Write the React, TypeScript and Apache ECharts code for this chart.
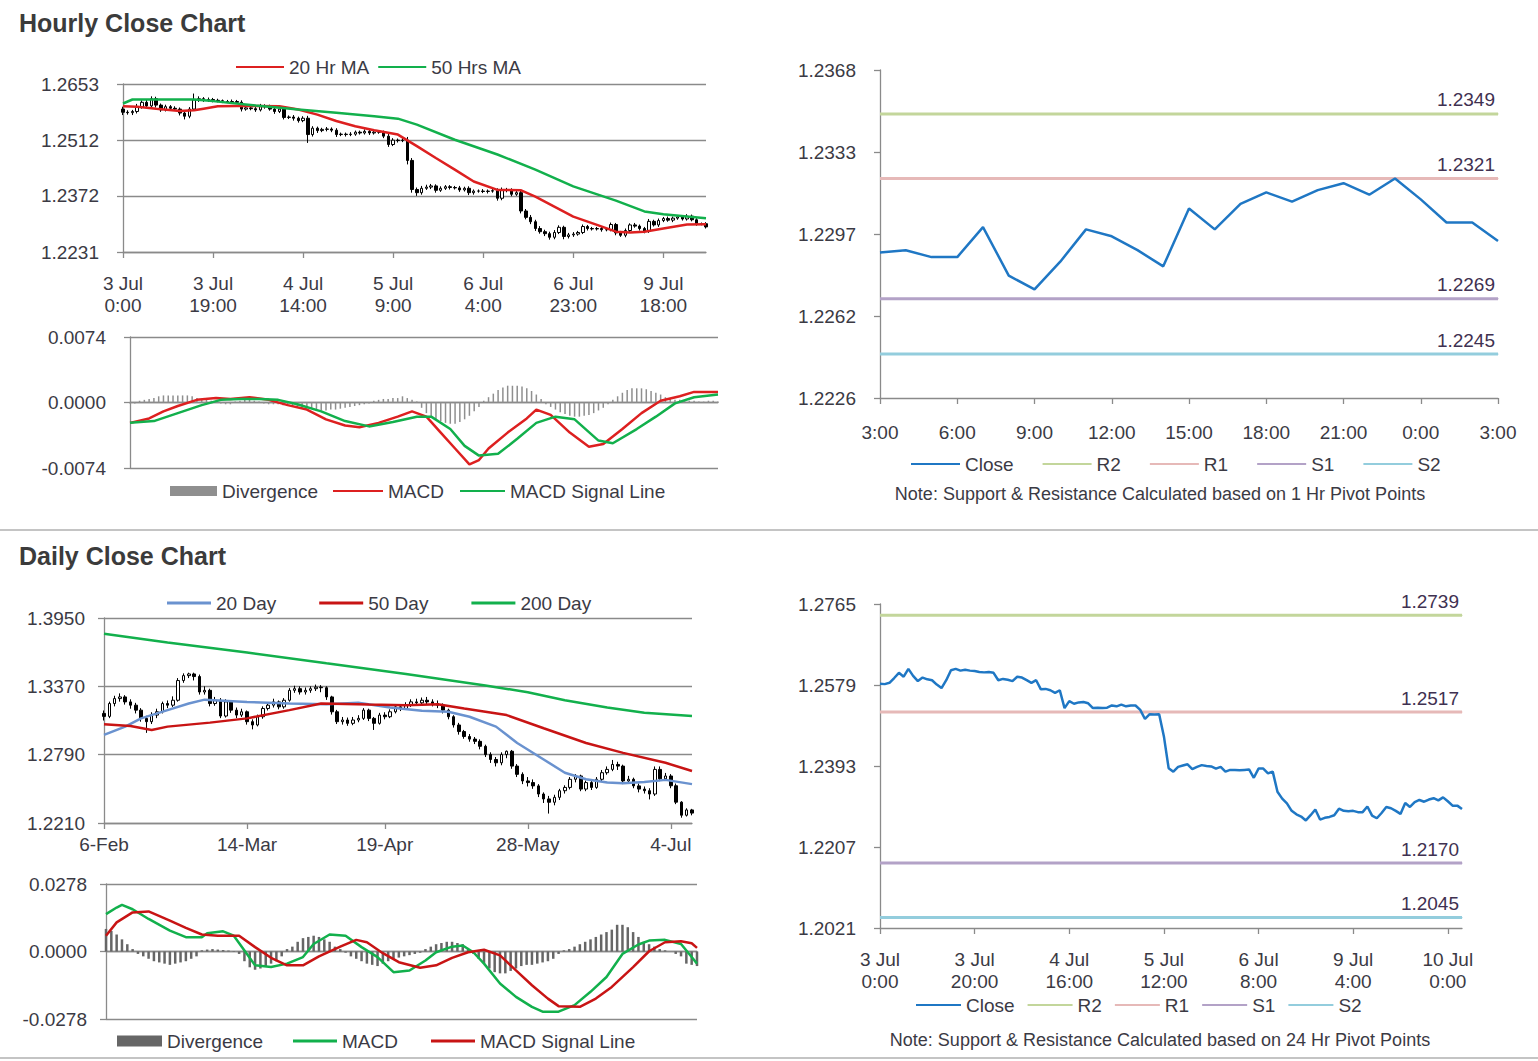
import React, { useEffect, useRef } from "react";
import * as echarts from "echarts";

const W = 1538;
const H = 1061;
const FONT = "'Liberation Sans', Arial, Helvetica, sans-serif";
const TXT = "#3b3a44";
const AXIS = "#8a8a8a";
const LVL = "#3f3151";
const RED = "#dd2020";
const GREEN = "#12b04c";
const BLUE20 = "#6a92cf";
const DRED = "#c81414";
const CLOSE = "#1f77c4";
const R2C = "#c3d69b";
const R1C = "#e6b9b8";
const S1C = "#b3a2c7";
const S2C = "#93cddd";

// ---------------- Hourly data: 3 Jul 0:00 – 10 Jul 3:00 ----------------
const hourlyDays = ["3 Jul", "4 Jul", "5 Jul", "6 Jul", "9 Jul", "10 Jul"];
const hourlyFirstOpen = 1.259;
const hourlyClose = [
  1.2582, 1.2581, 1.2584, 1.2595, 1.2607, 1.2598, 1.2616, 1.26, 1.2588, 1.2596,
  1.2592, 1.259, 1.258, 1.2572, 1.259, 1.2613, 1.2616, 1.2612, 1.2614, 1.2612,
  1.2611, 1.2609, 1.2608, 1.2609, 1.2607, 1.259, 1.2593, 1.2591, 1.2588, 1.2598,
  1.2596, 1.259, 1.2584, 1.259, 1.2569, 1.257, 1.2567, 1.2561, 1.2567, 1.2526,
  1.2542, 1.2536, 1.2539, 1.254, 1.2537, 1.2526, 1.2527, 1.2526, 1.2527, 1.2532,
  1.253, 1.2534, 1.253, 1.2532, 1.2532, 1.2522, 1.2501, 1.2512, 1.2511, 1.2512,
  1.2461, 1.2388, 1.238, 1.2391, 1.2394, 1.2397, 1.2386, 1.2391, 1.2395, 1.2393,
  1.2392, 1.2387, 1.2391, 1.238, 1.2384, 1.2384, 1.2383, 1.2384, 1.2385, 1.2366,
  1.2387, 1.2387, 1.2376, 1.238, 1.2334, 1.2318, 1.2307, 1.229, 1.2282, 1.2277,
  1.2268, 1.228, 1.2293, 1.227, 1.2274, 1.2276, 1.228, 1.2295, 1.229, 1.2289,
  1.229, 1.2287, 1.2287, 1.23, 1.2279, 1.2273, 1.2285, 1.2299, 1.2296, 1.229,
  1.2283, 1.2308, 1.2299, 1.231, 1.2315, 1.2311, 1.2316, 1.2319, 1.2314, 1.2321,
  1.2312, 1.2302, 1.2302, 1.2294,
];
// wick lengths beyond the candle body, in pips
const hourlyUpWickPips = [
  6, 5, 4, 8, 5, 6, 6, 5, 4, 5,
  4, 5, 4, 6, 5, 16, 6, 4, 5, 4,
  4, 3, 4, 5, 4, 5, 4, 5, 4, 5,
  4, 5, 4, 5, 6, 4, 5, 4, 5, 6,
  5, 4, 4, 5, 4, 5, 4, 4, 5, 4,
  4, 5, 4, 4, 5, 4, 6, 5, 4, 5,
  8, 6, 5, 6, 6, 5, 4, 5, 4, 4,
  4, 5, 4, 5, 4, 4, 5, 4, 4, 6,
  6, 5, 4, 5, 6, 5, 6, 5, 6, 5,
  5, 6, 5, 4, 5, 5, 4, 5, 4, 4,
  4, 5, 4, 5, 4, 5, 5, 4, 5, 4,
  4, 6, 4, 5, 4, 5, 4, 5, 4, 5,
  4, 4, 3, 4,
];
const hourlyDownWickPips = [
  7, 5, 6, 5, 4, 5, 5, 6, 5, 4,
  5, 4, 6, 8, 5, 4, 5, 4, 4, 5,
  4, 4, 3, 4, 4, 6, 4, 4, 5, 4,
  5, 4, 6, 4, 5, 4, 6, 5, 4, 21,
  5, 6, 4, 5, 5, 6, 4, 5, 4, 4,
  4, 4, 5, 4, 4, 5, 6, 4, 5, 4,
  10, 8, 8, 5, 4, 5, 6, 4, 4, 5,
  4, 5, 4, 6, 5, 4, 4, 5, 4, 6,
  5, 6, 5, 4, 6, 5, 6, 6, 5, 6,
  6, 5, 4, 7, 5, 5, 4, 4, 5, 4,
  4, 5, 4, 4, 6, 4, 5, 4, 4, 5,
  5, 4, 4, 5, 4, 4, 5, 4, 4, 4,
  4, 5, 4, 4,
];
const ma20Hr = [
  [0, 1.2597], [3, 1.2596], [7, 1.2591], [12, 1.2585], [15, 1.2587], [17, 1.2591],
  [20, 1.2597], [24, 1.2598], [28, 1.2598], [33, 1.2597], [37, 1.2589], [41, 1.2576],
  [45, 1.256], [49, 1.2547], [53, 1.2537], [58, 1.2526], [62, 1.2497], [66, 1.2467],
  [70, 1.2438], [74, 1.2408], [79, 1.2387], [84, 1.2386], [87, 1.237], [91, 1.2345],
  [95, 1.232], [100, 1.2299], [104, 1.2282], [107, 1.228], [110, 1.2282], [114, 1.229],
  [119, 1.23], [123, 1.2301],
];
const ma50Hr = [
  [0, 1.2604], [2, 1.2614], [15, 1.2614], [19, 1.261], [28, 1.2599], [37, 1.2589],
  [45, 1.2581], [53, 1.2572], [58, 1.2566], [62, 1.2551], [70, 1.2513], [79, 1.2476],
  [87, 1.2438], [95, 1.2396], [104, 1.236], [110, 1.2333], [114, 1.2326], [119, 1.232],
  [123, 1.2316],
];
const hourlyMacd = [
  [0, -0.0023], [4, -0.0018], [7, -0.001], [10, -0.0004], [14, 0.0003], [18, 0.0005],
  [21, 0.0004], [25, 0.0006], [29, 0.0003], [33, -0.0003], [37, -0.0008], [41, -0.0019],
  [45, -0.0026], [48, -0.0028], [52, -0.0023], [56, -0.0016], [59, -0.001], [62, -0.0016],
  [65, -0.0034], [68, -0.0052], [71, -0.007], [73, -0.0065], [75, -0.0052], [79, -0.0034],
  [83, -0.0018], [85, -0.0008], [88, -0.0014], [92, -0.0034], [96, -0.005], [99, -0.0047],
  [103, -0.003], [107, -0.0012], [111, 0.0002], [115, 0.0007], [118, 0.0012], [123, 0.0012],
];
const hourlySignal = [
  [0, -0.0023], [5, -0.0021], [10, -0.0012], [15, -0.0003], [19, 0.0003], [23, 0.0004],
  [27, 0.0004], [31, 0.0003], [35, -0.0002], [40, -0.001], [45, -0.0021], [50, -0.0027],
  [55, -0.0022], [60, -0.0016], [63, -0.0016], [67, -0.003], [70, -0.0049], [73, -0.006],
  [77, -0.0058], [81, -0.0041], [85, -0.0023], [89, -0.0016], [93, -0.0019], [98, -0.0043],
  [101, -0.0046], [106, -0.003], [110, -0.0016], [114, -0.0001], [118, 0.0006], [123, 0.0009],
];
const hourlyDivergence = [
  -0.0001, -0.0001, 0.0002, 0.0003, 0.0004, 0.0005, 0.0007, 0.0008, 0.0008, 0.0008,
  0.0008, 0.0008, 0.0008, 0.0007, 0.0005, 0.0004, 0.0003, 0.0002, 0.0001, -0.0001,
  -0.0002, -0.0002, 0.0001, 0.0002, 0.0003, 0.0003, 0.0002, 0.0001, -0.0001, -0.0002,
  -0.0002, -0.0002, -0.0003, -0.0004, -0.0004, -0.0005, -0.0006, -0.0006, -0.0007, -0.0008,
  -0.0009, -0.0009, -0.0008, -0.0008, -0.0007, -0.0006, -0.0005, -0.0004, -0.0003, -0.0002,
  -0.0001, 0.0002, 0.0003, 0.0004, 0.0004, 0.0005, 0.0005, 0.0007, 0.0005, 0.0003,
  0.0001, -0.0006, -0.0012, -0.0016, -0.0019, -0.0021, -0.0023, -0.0024, -0.0024, -0.0022,
  -0.0019, -0.0015, -0.001, -0.0005, 0.0002, 0.0006, 0.001, 0.0014, 0.0017, 0.0019,
  0.0019, 0.0019, 0.0018, 0.0016, 0.0013, 0.0009, 0.0004, -0.0002, -0.0005, -0.0008,
  -0.0011, -0.0013, -0.0015, -0.0016, -0.0016, -0.0015, -0.0014, -0.0012, -0.0009, -0.0006,
  -0.0002, 0.0003, 0.0007, 0.0011, 0.0014, 0.0016, 0.0016, 0.0016, 0.0015, 0.0013,
  0.0011, 0.0009, 0.0006, 0.0004, 0.0003, 0.0003, 0.0002, 0.0002, 0.0002, 0.0001,
  0.0001, 0.0002, 0.0002, 0.0001,
];
const hourlyPriceTicks = [1.2231, 1.23717, 1.25123, 1.2653];
const hourlyMacdTicks = [-0.0074, 0, 0.0074];
const hourlyPivotStart = 99; // 9 Jul 3:00
const hourlyPivotTicks = [1.2226, 1.22615, 1.2297, 1.23325, 1.2368];
const hourlyPivotNames = ["R2", "R1", "S1", "S2"];
const hourlyPivotValues = [1.2349, 1.2321, 1.2269, 1.2245];

// ---------------- Daily data: 6 Feb – 10 Jul (weekdays) ----------------
const monthNames = ["Jan", "Feb", "Mar", "Apr", "May", "Jun", "Jul", "Aug", "Sep", "Oct", "Nov", "Dec"];
const dailyFirstOpen = 1.314;
const dailyClose = [
  1.3115, 1.3224, 1.3266, 1.328, 1.3238, 1.321, 1.3168, 1.3098, 1.307, 1.3126,
  1.3154, 1.3224, 1.321, 1.3252, 1.3419, 1.3461, 1.3475, 1.3453, 1.3322, 1.3336,
  1.3224, 1.3252, 1.3118, 1.3238, 1.3168, 1.3126, 1.3154, 1.307, 1.3042, 1.3112,
  1.3182, 1.321, 1.3238, 1.3196, 1.3252, 1.3336, 1.335, 1.3322, 1.3336, 1.335,
  1.3363, 1.3358, 1.328, 1.3154, 1.307, 1.3084, 1.3056, 1.3084, 1.3098, 1.3168,
  1.3098, 1.3056, 1.3126, 1.3112, 1.3154, 1.3196, 1.3182, 1.321, 1.3238, 1.323,
  1.3252, 1.3238, 1.3224, 1.321, 1.3168, 1.3112, 1.3042, 1.2986, 1.2944, 1.2922,
  1.2903, 1.2861, 1.2791, 1.2749, 1.2721, 1.2791, 1.2819, 1.2693, 1.2623, 1.2567,
  1.2553, 1.2525, 1.2456, 1.2414, 1.2386, 1.2428, 1.2484, 1.2512, 1.2581, 1.2609,
  1.2498, 1.2553, 1.2512, 1.2581, 1.2637, 1.2665, 1.2707, 1.2693, 1.2567, 1.2581,
  1.2525, 1.2498, 1.2484, 1.2456, 1.2665, 1.2585, 1.2609, 1.2526, 1.2387, 1.2276,
  1.2321, 1.2294,
];
const dailyHigh = [
  1.3165, 1.324, 1.329, 1.331, 1.3295, 1.326, 1.323, 1.3185, 1.312, 1.315,
  1.318, 1.324, 1.325, 1.3285, 1.344, 1.348, 1.3486, 1.3486, 1.347, 1.337,
  1.335, 1.328, 1.327, 1.326, 1.325, 1.319, 1.318, 1.3165, 1.309, 1.313,
  1.32, 1.3235, 1.3265, 1.325, 1.327, 1.3355, 1.3375, 1.337, 1.336, 1.337,
  1.3385, 1.338, 1.337, 1.329, 1.317, 1.311, 1.3105, 1.311, 1.3125, 1.3185,
  1.318, 1.311, 1.3145, 1.315, 1.3175, 1.3215, 1.322, 1.3235, 1.326, 1.3265,
  1.3275, 1.328, 1.326, 1.325, 1.3225, 1.318, 1.3125, 1.306, 1.3, 1.2965,
  1.294, 1.292, 1.2875, 1.281, 1.277, 1.281, 1.2825, 1.283, 1.271, 1.264,
  1.26, 1.258, 1.254, 1.247, 1.244, 1.245, 1.25, 1.253, 1.26, 1.2625,
  1.262, 1.257, 1.258, 1.26, 1.266, 1.269, 1.2745, 1.273, 1.2705, 1.261,
  1.2595, 1.2545, 1.252, 1.2505, 1.269, 1.269, 1.2635, 1.2625, 1.2545, 1.2395,
  1.2335, 1.233,
];
const dailyLow = [
  1.308, 1.31, 1.32, 1.324, 1.3215, 1.318, 1.314, 1.307, 1.2975, 1.305,
  1.31, 1.314, 1.3185, 1.3195, 1.324, 1.34, 1.344, 1.342, 1.33, 1.33,
  1.32, 1.3205, 1.31, 1.3105, 1.3145, 1.31, 1.311, 1.3045, 1.3005, 1.303,
  1.3095, 1.3165, 1.319, 1.3175, 1.318, 1.324, 1.3315, 1.33, 1.33, 1.3315,
  1.333, 1.332, 1.3255, 1.313, 1.305, 1.3045, 1.3035, 1.304, 1.3065, 1.3085,
  1.3075, 1.3, 1.3045, 1.309, 1.31, 1.314, 1.316, 1.317, 1.3195, 1.3205,
  1.3215, 1.322, 1.32, 1.3185, 1.314, 1.309, 1.302, 1.296, 1.2925, 1.29,
  1.288, 1.2835, 1.277, 1.272, 1.269, 1.27, 1.276, 1.267, 1.26, 1.254,
  1.252, 1.25, 1.243, 1.238, 1.229, 1.236, 1.2405, 1.246, 1.2495, 1.2555,
  1.248, 1.248, 1.249, 1.25, 1.256, 1.262, 1.265, 1.266, 1.254, 1.2545,
  1.2505, 1.247, 1.246, 1.241, 1.244, 1.2565, 1.257, 1.2505, 1.237, 1.2255,
  1.2265, 1.2275,
];
const ma20Day = [
  [0, 1.2958], [4, 1.3028], [7, 1.3098], [12, 1.3168], [16, 1.3224], [19, 1.3257],
  [27, 1.3238], [35, 1.3224], [42, 1.3218], [48, 1.323], [54, 1.319], [60, 1.3162],
  [65, 1.3154], [69, 1.3112], [74, 1.3028], [78, 1.2889], [83, 1.2749], [87, 1.2637],
  [91, 1.2581], [95, 1.2553], [98, 1.2548], [102, 1.2559], [106, 1.2576], [111, 1.254],
];
const ma50Day = [
  [0, 1.3048], [5, 1.3034], [9, 1.3], [12, 1.3028], [20, 1.3062], [27, 1.3098],
  [35, 1.3168], [41, 1.3224], [50, 1.3215], [57, 1.321], [63, 1.3218], [68, 1.3182],
  [76, 1.3126], [83, 1.3014], [91, 1.2889], [98, 1.2805], [106, 1.2721], [111, 1.2651],
];
const ma200Day = [
  [0, 1.3816], [12, 1.3743], [27, 1.3657], [42, 1.3565], [57, 1.3475], [72, 1.3377],
  [80, 1.332], [87, 1.3252], [95, 1.319], [102, 1.3146], [111, 1.3118],
];
const dailyMacd = [
  [0, 0.0154], [2, 0.0181], [3, 0.0192], [5, 0.0174], [8, 0.0134], [12, 0.0086],
  [15, 0.0059], [18, 0.0059], [19, 0.0075], [22, 0.0083], [24, 0.0065], [26, 0.0004],
  [28, -0.0057], [31, -0.0064], [34, -0.005], [37, -0.0023], [39, 0.0031], [42, 0.007],
  [45, 0.0065], [48, 0.0018], [51, -0.0023], [54, -0.0085], [57, -0.0078], [60, -0.0037],
  [62, -0.0003], [65, 0.002], [67, 0.0025], [69, -0.0003], [71, -0.005], [74, -0.0132],
  [77, -0.0187], [80, -0.0228], [82, -0.0248], [85, -0.0248], [88, -0.0221], [91, -0.0166],
  [94, -0.0105], [97, -0.001], [100, 0.0029], [102, 0.0045], [105, 0.0048], [108, 0.0031],
  [110, -0.0023], [111, -0.005],
];
const dailySignal = [
  [0, 0.0065], [2, 0.012], [5, 0.0161], [8, 0.0165], [12, 0.0127], [15, 0.0097],
  [18, 0.007], [21, 0.0065], [25, 0.0065], [28, 0.0018], [31, -0.0026], [34, -0.0057],
  [37, -0.0057], [40, -0.002], [44, 0.002], [47, 0.0048], [49, 0.0038], [52, -0.0007],
  [55, -0.0044], [59, -0.0067], [62, -0.0057], [65, -0.0026], [68, -0.0003], [71, 0.0007],
  [74, -0.0016], [77, -0.0078], [80, -0.0139], [83, -0.0194], [85, -0.0225], [89, -0.0228],
  [92, -0.0194], [95, -0.0146], [99, -0.0064], [102, 0.0001], [105, 0.0038], [108, 0.0042],
  [110, 0.0034], [111, 0.0015],
];
const dailyDivergence = [
  0.0093, 0.0085, 0.007, 0.005, 0.003, 0.001, -0.001, -0.002, -0.003, -0.004,
  -0.0045, -0.005, -0.0055, -0.005, -0.0045, -0.004, -0.003, -0.002, 0.0005, 0.0008,
  0.001, 0.0008, 0.0006, 0.0004, 0.0002, -0.001, -0.004, -0.0065, -0.0075, -0.007,
  -0.006, -0.005, -0.004, -0.002, 0.001, 0.002, 0.004, 0.0055, 0.006, 0.0065,
  0.006, 0.005, 0.004, 0.002, 0.001, -0.0005, -0.002, -0.003, -0.004, -0.005,
  -0.0055, -0.006, -0.005, -0.004, -0.003, -0.0025, -0.002, -0.0015, -0.001, -0.0005,
  0.001, 0.002, 0.003, 0.0035, 0.004, 0.004, 0.0035, 0.003, 0.001, -0.001,
  -0.003, -0.005, -0.007, -0.0085, -0.009, -0.009, -0.008, -0.007, -0.006, -0.0055,
  -0.0055, -0.005, -0.0045, -0.004, -0.003, -0.001, 0.0005, 0.001, 0.002, 0.003,
  0.004, 0.005, 0.006, 0.007, 0.008, 0.009, 0.011, 0.011, 0.01, 0.008,
  0.006, 0.004, 0.003, 0.002, 0.001, 0.0005, 0, -0.001, -0.002, -0.005,
  -0.0055, -0.006,
];
const dailyPriceTicks = [1.221, 1.279, 1.337, 1.395];
const dailyMacdTicks = [-0.0278, 0, 0.0278];
const dailyTickLabels = ["6-Feb", "14-Mar", "19-Apr", "28-May", "4-Jul"];
const dailyPivotTicks = [1.2021, 1.2207, 1.2393, 1.2579, 1.2765];
const dailyPivotNames = ["R2", "R1", "S1", "S2"];
const dailyPivotValues = [1.2739, 1.2517, 1.217, 1.2045];

// ---------------- derived label lists & OHLC ----------------
const hourlyLabels: string[] = [];
for (const d of hourlyDays) {
  for (let h = 0; h < 24 && hourlyLabels.length < hourlyClose.length; h++) hourlyLabels.push(`${d}\n${h}:00`);
}
const pivotHours = hourlyLabels.slice(hourlyPivotStart).map((s) => s.split("\n")[1]);
const pivotClose = hourlyClose.slice(hourlyPivotStart);

const dailyLabels: string[] = [];
{
  const dt = new Date(Date.UTC(2012, 1, 6));
  while (dailyLabels.length < dailyClose.length) {
    const wd = dt.getUTCDay();
    if (wd !== 0 && wd !== 6) dailyLabels.push(`${dt.getUTCDate()}-${monthNames[dt.getUTCMonth()]}`);
    dt.setUTCDate(dt.getUTCDate() + 1);
  }
}
const dailyTickIdx = dailyTickLabels.map((l) => dailyLabels.indexOf(l));

const PIP = 0.0001;
const hourlyOHLC = hourlyClose.map((c, i) => {
  const o = i === 0 ? hourlyFirstOpen : hourlyClose[i - 1];
  const lo = Math.min(o, c) - hourlyDownWickPips[i] * PIP;
  const hi = Math.max(o, c) + hourlyUpWickPips[i] * PIP;
  return [o, c, lo, hi];
});
const dailyOHLC = dailyClose.map((c, i) => {
  const o = i === 0 ? dailyFirstOpen : dailyClose[i - 1];
  return [o, c, Math.min(dailyLow[i], o, c), Math.max(dailyHigh[i], o, c)];
});

// ---------------- option helpers ----------------
const axisLineStyle = { color: AXIS, width: 1.3 };
const labelBase = { color: TXT, fontSize: 19, fontFamily: FONT };
// 4-decimal label, rounding halves upwards (1.22615 -> 1.2262)
const fmt4 = (v: number) => (Math.round(v * 10000 + (v >= 0 ? 0.01 : -0.01)) / 10000).toFixed(4);

function priceAxis(gridIndex: number, min: number, max: number, ticks: number[], margin: number, grid: boolean) {
  return {
    type: "value",
    gridIndex,
    min,
    max,
    axisLine: { show: true, onZero: false, lineStyle: axisLineStyle },
    axisTick: { show: true, inside: false, length: 6, customValues: ticks, lineStyle: axisLineStyle },
    axisLabel: { ...labelBase, margin, customValues: ticks, formatter: fmt4 },
    splitLine: { show: grid, lineStyle: { color: AXIS, width: 1.3 } },
  };
}

function catAxis(gridIndex: number, data: string[], interval: any, margin: number) {
  return {
    type: "category",
    gridIndex,
    data,
    boundaryGap: false,
    axisLine: { show: true, onZero: false, lineStyle: axisLineStyle },
    axisTick: { show: true, interval, length: 6, lineStyle: axisLineStyle },
    axisLabel: { ...labelBase, interval, margin, lineHeight: 22 },
    splitLine: { show: false },
  };
}

function macdXAxis(gridIndex: number, data: string[]) {
  return {
    type: "category",
    gridIndex,
    data,
    boundaryGap: false,
    axisLine: { show: true, onZero: true, lineStyle: axisLineStyle },
    axisTick: { show: false },
    axisLabel: { show: false },
    splitLine: { show: false },
  };
}

function mkLegend(data: any[], left: number, cy: number, w: number, h: number, gap: number, icon = "rect") {
  return {
    data,
    left,
    top: cy - 11,
    icon,
    itemWidth: w,
    itemHeight: h,
    itemGap: gap,
    padding: 0,
    selectedMode: false,
    textStyle: { color: TXT, fontSize: 19, fontFamily: FONT, lineHeight: 22 },
  };
}

function lineSeries(name: string, data: any[], color: string, width: number, xi = 0, yi = 0) {
  return {
    name,
    type: "line",
    xAxisIndex: xi,
    yAxisIndex: yi,
    data,
    symbol: "none",
    silent: true,
    z: 3,
    lineStyle: { color, width },
    itemStyle: { color },
  };
}

function levelSeries(name: string, value: number, lastIdx: number, color: string) {
  return {
    name,
    type: "line",
    symbol: "none",
    showAllSymbol: true,
    silent: true,
    z: 2,
    lineStyle: { color, width: 3 },
    itemStyle: { color },
    data: [
      [0, value],
      {
        value: [lastIdx, value],
        symbol: "circle",
        symbolSize: 1,
        label: {
          show: true,
          position: "top",
          align: "right",
          distance: 4,
          offset: [-3, 0],
          color: LVL,
          fontSize: 19,
          fontFamily: FONT,
          formatter: () => value.toFixed(4),
        },
      },
    ],
  };
}

const candleStyle = { color: "#ffffff", color0: "#000000", borderColor: "#000000", borderColor0: "#000000", borderWidth: 1 };

function noteText(text: string, y: number) {
  return {
    type: "text",
    x: 1160,
    y,
    style: { text, font: `18px ${FONT}`, fill: TXT, align: "center", verticalAlign: "middle" },
  };
}

// ---------------- chart options ----------------
const optionHourly = {
  animation: false,
  textStyle: { fontFamily: FONT },
  grid: [
    { left: 123, top: 84, width: 583, height: 168, outerBoundsMode: "none" },
    { left: 130, top: 337, width: 588, height: 131, outerBoundsMode: "none" },
  ],
  legend: [
    mkLegend(["20 Hr MA", "50 Hrs MA"], 236, 67, 48, 2, 9),
    mkLegend(["Divergence"], 170, 491, 47, 10, 0),
    mkLegend(["MACD"], 333, 491, 50, 2, 0),
    mkLegend(["MACD Signal Line"], 460, 491, 45, 2, 0),
  ],
  xAxis: [catAxis(0, hourlyLabels, 18, 20), macdXAxis(1, hourlyLabels)],
  yAxis: [
    priceAxis(0, 1.2231, 1.2653, hourlyPriceTicks, 24, true),
    priceAxis(1, -0.0074, 0.0074, hourlyMacdTicks, 24, true),
  ],
  series: [
    { name: "Hourly", type: "candlestick", xAxisIndex: 0, yAxisIndex: 0, data: hourlyOHLC, barWidth: 3, itemStyle: candleStyle, silent: true, z: 2 },
    lineSeries("20 Hr MA", ma20Hr, RED, 2.5),
    lineSeries("50 Hrs MA", ma50Hr, GREEN, 2.5),
    { name: "Divergence", type: "bar", xAxisIndex: 1, yAxisIndex: 1, data: hourlyDivergence, barWidth: 1.5, itemStyle: { color: "#8f8f8f" }, silent: true },
    lineSeries("MACD", hourlyMacd, RED, 2.5, 1, 1),
    lineSeries("MACD Signal Line", hourlySignal, GREEN, 2.5, 1, 1),
  ],
  graphic: [
    { type: "text", x: 19, y: 23, style: { text: "Hourly Close Chart", font: `bold 25px ${FONT}`, fill: "#3b3b3b", verticalAlign: "middle" } },
    { type: "text", x: 19, y: 556, style: { text: "Daily Close Chart", font: `bold 25px ${FONT}`, fill: "#3b3b3b", verticalAlign: "middle" } },
    { type: "line", shape: { x1: 0, y1: 530, x2: W, y2: 530 }, style: { stroke: "#c4c4c4", lineWidth: 2 } },
    { type: "line", shape: { x1: 0, y1: 1058, x2: W, y2: 1058 }, style: { stroke: "#c4c4c4", lineWidth: 2 } },
  ],
};

const optionHourlyPivot = {
  animation: false,
  textStyle: { fontFamily: FONT },
  grid: { left: 880, top: 70, width: 618, height: 328, outerBoundsMode: "none" },
  legend: mkLegend(["Close", ...hourlyPivotNames], 911, 464, 49, 2, 29),
  xAxis: catAxis(0, pivotHours, 2, 23),
  yAxis: priceAxis(0, 1.2226, 1.2368, hourlyPivotTicks, 24, false),
  series: [
    ...hourlyPivotNames.map((n, i) => levelSeries(n, hourlyPivotValues[i], pivotHours.length - 1, [R2C, R1C, S1C, S2C][i])),
    lineSeries("Close", pivotClose, CLOSE, 2.5),
  ],
  graphic: [noteText("Note: Support & Resistance Calculated based on 1 Hr Pivot Points", 494)],
};

const optionDaily = {
  animation: false,
  textStyle: { fontFamily: FONT },
  grid: [
    { left: 104, top: 618, width: 588, height: 205, outerBoundsMode: "none" },
    { left: 106, top: 884, width: 591, height: 135, outerBoundsMode: "none" },
  ],
  legend: [
    mkLegend(["20 Day", "50 Day", "200 Day"], 167, 603, 44, 3, 43),
    mkLegend(["Divergence"], 117, 1041, 45, 11, 0),
    mkLegend(["MACD"], 293, 1041, 44, 3, 0),
    mkLegend(["MACD Signal Line"], 431, 1041, 44, 3, 0),
  ],
  xAxis: [catAxis(0, dailyLabels, (i: number) => dailyTickIdx.includes(i), 10), macdXAxis(1, dailyLabels)],
  yAxis: [
    priceAxis(0, 1.221, 1.395, dailyPriceTicks, 19, true),
    priceAxis(1, -0.0278, 0.0278, dailyMacdTicks, 19, true),
  ],
  series: [
    { name: "Daily", type: "candlestick", xAxisIndex: 0, yAxisIndex: 0, data: dailyOHLC, barWidth: 3, itemStyle: candleStyle, silent: true, z: 2 },
    lineSeries("20 Day", ma20Day, BLUE20, 2.5),
    lineSeries("50 Day", ma50Day, DRED, 2.5),
    lineSeries("200 Day", ma200Day, GREEN, 2.5),
    { name: "Divergence", type: "bar", xAxisIndex: 1, yAxisIndex: 1, data: dailyDivergence, barWidth: 2.5, itemStyle: { color: "#666666" }, silent: true },
    lineSeries("MACD", dailyMacd, GREEN, 2.5, 1, 1),
    lineSeries("MACD Signal Line", dailySignal, DRED, 2.5, 1, 1),
  ],
};

const optionDailyPivot = {
  animation: false,
  textStyle: { fontFamily: FONT },
  grid: { left: 880, top: 604, width: 582, height: 324, outerBoundsMode: "none" },
  legend: mkLegend(["Close", ...dailyPivotNames], 916, 1005, 45, 2, 13),
  xAxis: catAxis(0, hourlyLabels, 19, 20),
  yAxis: priceAxis(0, 1.2021, 1.2765, dailyPivotTicks, 24, false),
  series: [
    ...dailyPivotNames.map((n, i) => levelSeries(n, dailyPivotValues[i], hourlyClose.length - 1, [R2C, R1C, S1C, S2C][i])),
    lineSeries("Close", hourlyClose, CLOSE, 2.5),
  ],
  graphic: [noteText("Note: Support & Resistance Calculated based on 24 Hr Pivot Points", 1040)],
};

function EChart({ option }: { option: any }) {
  const ref = useRef<HTMLDivElement>(null);
  useEffect(() => {
    if (!ref.current) return;
    const chart = echarts.init(ref.current, undefined, { renderer: "svg" });
    chart.setOption(option);
    return () => chart.dispose();
  }, [option]);
  return <div ref={ref} style={{ position: "absolute", left: 0, top: 0, width: W, height: H }} />;
}

export default function App() {
  return (
    <div style={{ position: "fixed", left: 0, top: 0, width: W, height: H, background: "#ffffff", overflow: "hidden" }}>
      <EChart option={optionHourly} />
      <EChart option={optionHourlyPivot} />
      <EChart option={optionDaily} />
      <EChart option={optionDailyPivot} />
    </div>
  );
}
